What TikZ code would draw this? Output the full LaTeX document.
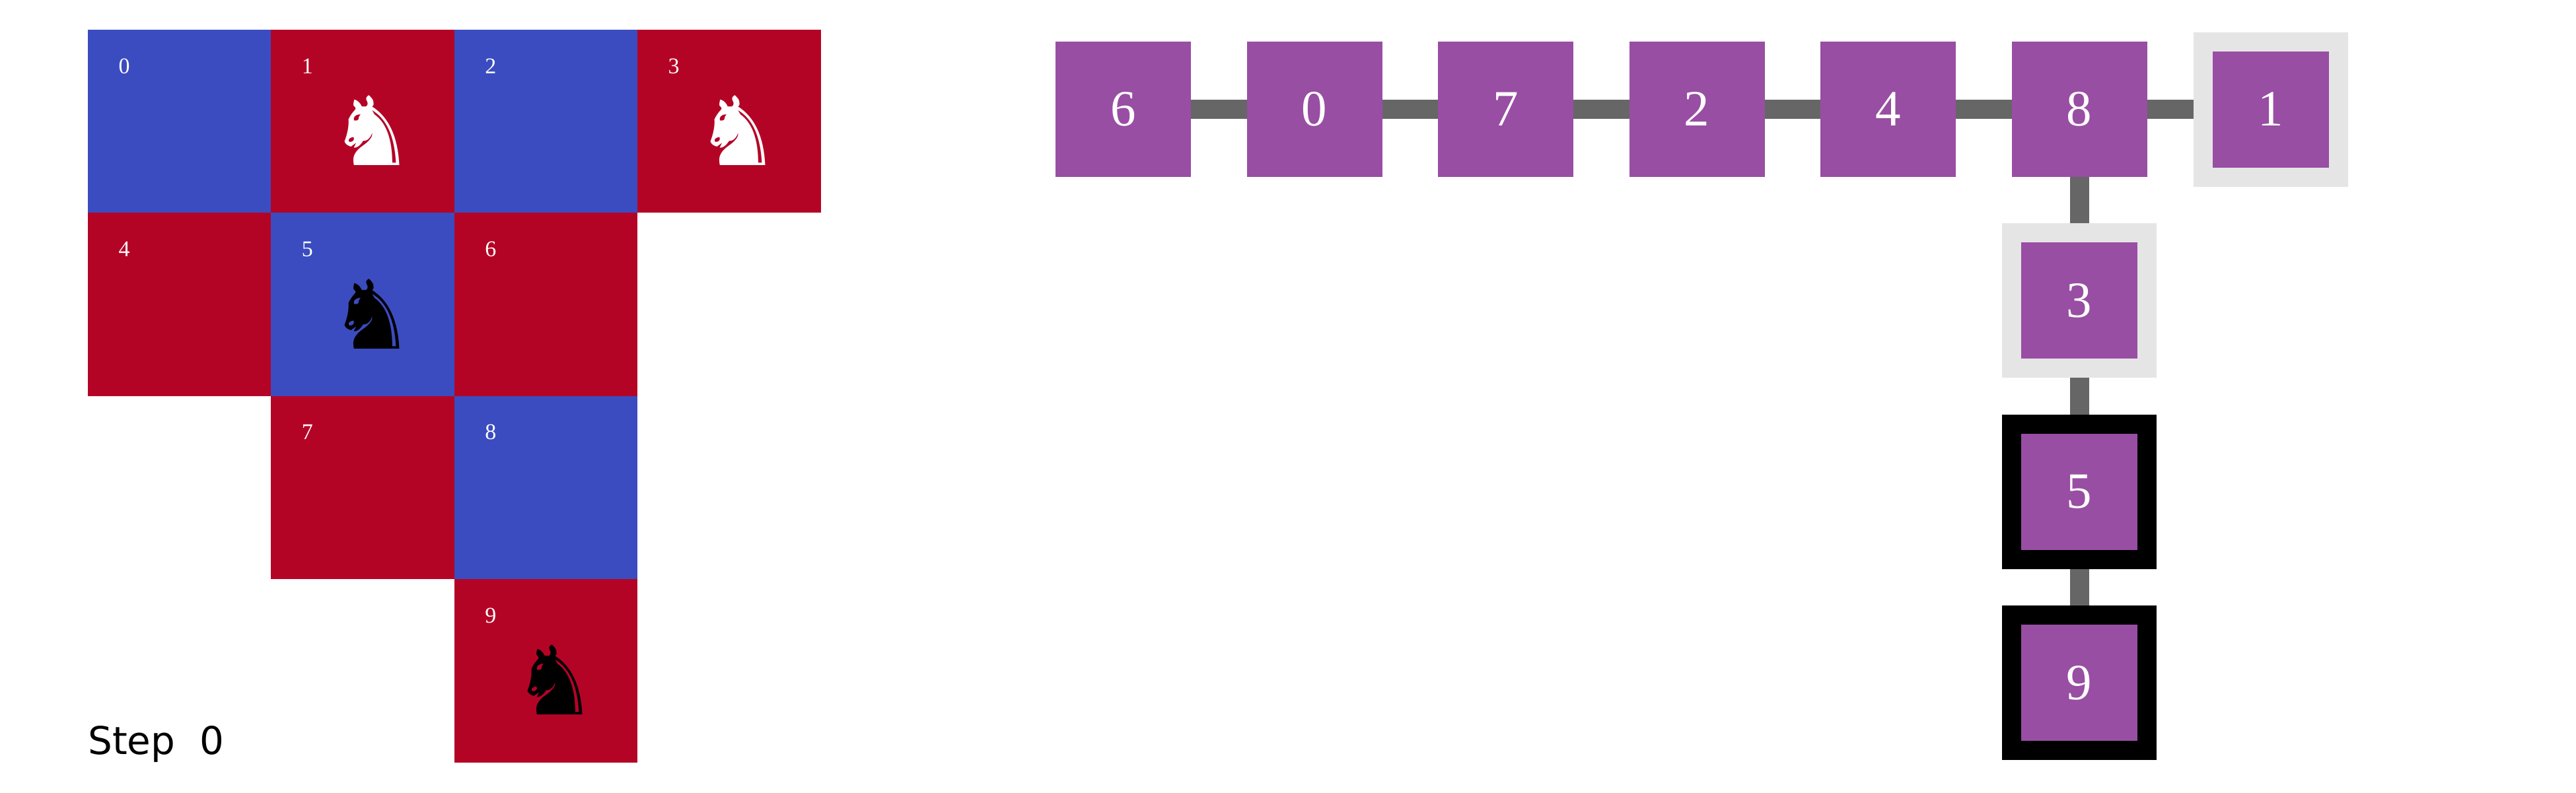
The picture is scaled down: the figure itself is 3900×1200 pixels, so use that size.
\documentclass[tikz,border=0pt]{standalone}
\usepackage{fontspec}
\setmainfont{Liberation Serif}
\newfontfamily\dejavu{DejaVu Sans}
\usetikzlibrary{positioning}
\definecolor{cellblue}{HTML}{3B4CC0}
\definecolor{cellred}{HTML}{B40426}
\definecolor{boxpurple}{HTML}{984EA3}
\definecolor{linkgray}{HTML}{666666}
\definecolor{ringgray}{HTML}{E5E5E5}
\tikzset{
	cell/.style={minimum size=277.4bp, inner sep=0pt, outer sep=0pt},
	celltext/.style={text=white, inner sep=0pt, font=\fontsize{34bp}{34bp}\selectfont},
	knight/.style={inner sep=0pt, font=\dejavu\fontsize{145bp}{145bp}\selectfont},
	box/.style={fill=boxpurple, text=white, minimum size=205bp, inner sep=0pt, outer sep=0pt, font=\fontsize{77bp}{77bp}\selectfont},
	ringlight/.style={box, draw=ringgray, line width=29bp, outer sep=14.5bp},
	ringdark/.style={box, draw=black, line width=29bp, outer sep=14.5bp},
	link/.style={linkgray, line width=29bp}
}
\begin{document}
\begin{tikzpicture}[x=1bp, y=-1bp]
	\useasboundingbox (0,0) rectangle (3900,1200);

	\foreach \n/\c/\r/\col in {0/0/0/cellblue, 1/1/0/cellred, 2/2/0/cellblue, 3/3/0/cellred, 4/0/1/cellred, 5/1/1/cellblue, 6/2/1/cellred, 7/1/2/cellred, 8/2/2/cellblue, 9/2/3/cellred}{
		\node[cell, fill=\col] (cell\n) at ({271.7+\c*277.4},{183.7+\r*277.4}) {};
		\node[celltext] (lab\n) at ([xshift=55bp, yshift=-55bp]cell\n.north west) {\n};
	}

	\node[knight, text=white] (knight1) at ([xshift=14bp, yshift=-14bp]cell1.center) {♞};
	\node[knight, text=white] (knight3) at ([xshift=14bp, yshift=-14bp]cell3.center) {♞};
	\node[knight, text=black] (knight5) at ([xshift=14bp, yshift=-14bp]cell5.center) {♞};
	\node[knight, text=black] (knight9) at ([xshift=14bp, yshift=-14bp]cell9.center) {♞};

	\node[anchor=base west, inner sep=0pt, font=\dejavu\fontsize{58bp}{58bp}\selectfont] (steplabel) at (133,1142.5) {Step\ \ 0};

	\node[box] (n6) at (1700.5,165.5) {6};
	\node[box] (n0) at (1990,165.5) {0};
	\node[box] (n7) at (2279.5,165.5) {7};
	\node[box] (n2) at (2569,165.5) {2};
	\node[box] (n4) at (2858.5,165.5) {4};
	\node[box] (n8) at (3148,165.5) {8};
	\node[ringlight] (n1) at (3437.5,165.5) {1};
	\node[ringlight] (n3) at (3148,455) {3};
	\node[ringdark] (n5) at (3148,744.5) {5};
	\node[ringdark] (n9) at (3148,1034) {9};

	\draw[link] (n6) -- (n0);
	\draw[link] (n0) -- (n7);
	\draw[link] (n7) -- (n2);
	\draw[link] (n2) -- (n4);
	\draw[link] (n4) -- (n8);
	\draw[link] (n8) -- (n1);
	\draw[link] (n8) -- (n3);
	\draw[link] (n3) -- (n5);
	\draw[link] (n5) -- (n9);
\end{tikzpicture}
\end{document}
